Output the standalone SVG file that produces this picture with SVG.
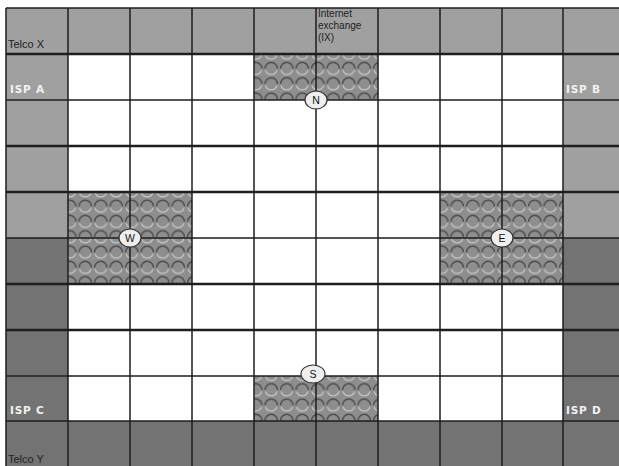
<svg xmlns="http://www.w3.org/2000/svg" width="619" height="466" viewBox="0 0 619 466">
<defs>
<pattern id="bub" x="0" y="0" width="15.5" height="15.3" patternUnits="userSpaceOnUse">
<rect width="15.5" height="15.3" fill="#8e8e8e"/>
<path d="M1.5,7.5 A6.2,6.2 0 0 1 14,7.5" fill="none" stroke="#4a4a4a" stroke-width="1.5"/>
<path d="M2,9 A6,6 0 0 0 13.5,9" fill="none" stroke="#c8c8c8" stroke-width="1.3"/>
</pattern>
<style>
.lt{fill:#a0a0a0}
.dk{fill:#737373}
.tx{fill:url(#bub)}
.g{stroke:#1e1e1e;stroke-width:1.5;fill:none}
.gb{stroke:#1e1e1e;stroke-width:2.4;fill:none}
.lab{font-family:"Liberation Sans",Arial,sans-serif;font-size:11px;fill:#222}
.ix{font-size:10px}
.isp{font-family:"DejaVu Sans",sans-serif;font-size:10.5px;font-weight:bold;fill:#f2f2f2;letter-spacing:0.8px}
.nd ellipse{fill:#eeeeee;stroke:#333;stroke-width:1.2}
.nd text{font-family:"Liberation Sans",Arial,sans-serif;font-size:10.5px;fill:#111;text-anchor:middle}
</style>
</defs>
<rect width="619" height="466" fill="#ffffff"/>
<g id="background">
<rect class="lt" x="6" y="8" width="613" height="46"/>
<rect class="lt" x="6" y="54" width="62" height="184"/>
<rect class="lt" x="563" y="54" width="56" height="184"/>
<rect class="dk" x="6" y="238" width="62" height="183"/>
<rect class="dk" x="563" y="238" width="56" height="183"/>
<rect class="dk" x="6" y="421" width="613" height="45"/>
</g>
<g id="exchange-areas">
<rect class="tx" x="254" y="54" width="124" height="46"/>
<rect class="tx" x="68" y="192" width="124" height="92"/>
<rect class="tx" x="440" y="192" width="123" height="92"/>
<rect class="tx" x="254" y="376" width="124" height="45"/>
</g>
<g id="connectors">
<path class="g" d="M6,8V466M68,8V466M130,8V466M192,8V466M254,8V466M316,8V466M378,8V466M440,8V466M502,8V466M563,8V466"/>
<path class="g" d="M6,8H619M6,100H619M6,238H619M6,376H619M6,421H619"/>
<path class="gb" d="M6,54H619M6,146H619M6,192H619M6,284H619M6,330H619"/>
</g>
<g id="labels">
<text class="lab" x="8" y="48">Telco X</text>
<text class="lab" x="8" y="463">Telco Y</text>
<text class="lab ix" x="318" y="17">Internet</text>
<text class="lab ix" x="318" y="29">exchange</text>
<text class="lab ix" x="318" y="41">(IX)</text>
<text class="isp" x="10" y="93">ISP A</text>
<text class="isp" x="566" y="93">ISP B</text>
<text class="isp" x="10" y="414">ISP C</text>
<text class="isp" x="566" y="414">ISP D</text>
</g>
<g id="node-N" class="nd"><ellipse cx="316" cy="100" rx="11" ry="9"/><text x="316" y="104">N</text></g>
<g id="node-W" class="nd"><ellipse cx="130" cy="238" rx="11" ry="9"/><text x="130" y="242">W</text></g>
<g id="node-E" class="nd"><ellipse cx="502" cy="238" rx="11" ry="9"/><text x="502" y="242">E</text></g>
<g id="node-S" class="nd"><ellipse cx="313" cy="374" rx="12" ry="9"/><text x="313" y="378">S</text></g>
</svg>
